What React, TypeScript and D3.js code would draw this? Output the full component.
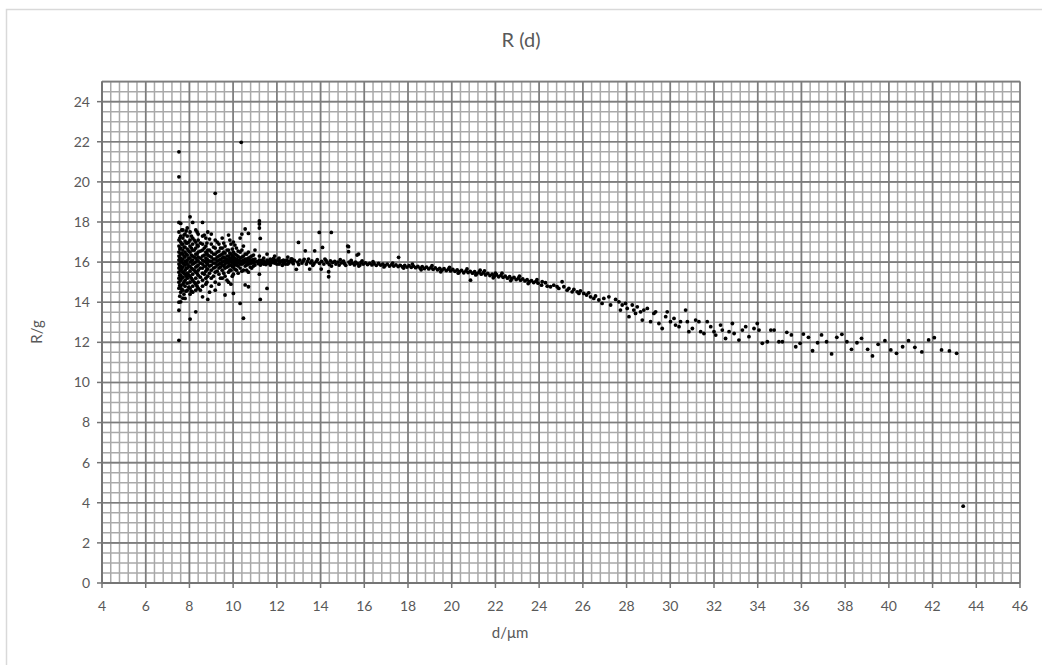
import React from "react";
import * as d3 from "d3";

// ---- data ----
const xTickLabels = [4, 6, 8, 10, 12, 14, 16, 18, 20, 22, 24, 26, 28, 30, 32, 34, 36, 38, 40, 42, 44, 46];
const yTickLabels = [0, 2, 4, 6, 8, 10, 12, 14, 16, 18, 20, 22, 24];

// dense cluster at small d: column d value -> list of R values
const clusterD = [7.52, 7.6, 7.7, 7.8, 7.9, 8.03, 8.15, 8.29, 8.4, 8.6, 8.75, 8.84, 9.0, 9.18, 9.35, 9.5, 9.63, 9.79, 9.9, 10.01, 10.15, 10.32, 10.37, 10.47, 10.55, 10.7, 10.85, 11.0, 11.2, 11.24, 11.4, 11.55, 11.7, 11.9, 12.1, 12.3, 12.5, 12.7];
const clusterR = [
  [21.5, 20.25, 17.98, 17.5, 17.1, 16.8, 16.5, 16.3, 16.1, 15.9, 15.7, 15.5, 15.2, 15.0, 14.7, 14.0, 13.6, 12.1],
  [17.93, 17.3, 17.0, 16.7, 16.4, 16.2, 16.0, 15.8, 15.6, 15.35, 15.1, 14.8, 14.5, 14.02],
  [17.6, 17.2, 16.9, 16.6, 16.4, 16.15, 15.95, 15.75, 15.5, 15.25, 14.9, 14.6, 14.2],
  [17.4, 17.05, 16.75, 16.5, 16.25, 16.05, 15.85, 15.6, 15.4, 15.1, 14.8, 14.19],
  [17.7, 17.3, 16.95, 16.65, 16.35, 16.1, 15.9, 15.7, 15.45, 15.2, 14.95, 14.6],
  [18.26, 17.5, 17.1, 16.8, 16.5, 16.2, 16.0, 15.8, 15.55, 15.3, 15.0, 14.7, 14.4, 13.16],
  [17.98, 17.2, 16.9, 16.6, 16.3, 16.1, 15.9, 15.65, 15.4, 15.1, 14.8, 14.5],
  [17.6, 17.0, 16.7, 16.4, 16.2, 16.0, 15.75, 15.5, 15.2, 14.9, 14.6, 13.52],
  [17.4, 17.1, 16.8, 16.5, 16.25, 16.05, 15.85, 15.6, 15.35, 15.0, 14.7],
  [17.98, 17.3, 16.9, 16.6, 16.3, 16.1, 15.9, 15.7, 15.45, 15.1, 14.8, 14.27],
  [17.2, 16.8, 16.5, 16.2, 16.0, 15.8, 15.55, 15.2, 14.9],
  [17.5, 16.6, 16.35, 16.1, 15.9, 15.65, 15.3, 14.14],
  [17.4, 16.9, 16.5, 16.25, 16.05, 15.85, 15.6, 15.2, 14.8],
  [19.43, 17.1, 16.7, 16.4, 16.15, 15.95, 15.75, 15.5, 15.0, 14.6],
  [16.9, 16.55, 16.3, 16.1, 15.9, 15.7, 15.4, 14.9],
  [17.2, 16.7, 16.4, 16.2, 16.0, 15.85, 15.6, 15.2],
  [16.8, 16.45, 16.2, 16.05, 15.9, 15.7, 15.3, 14.36],
  [17.35, 16.6, 16.3, 16.1, 15.95, 15.8, 15.5, 15.0],
  [16.9, 16.4, 16.2, 16.05, 15.85, 15.6, 14.9],
  [17.0, 16.5, 16.25, 16.1, 15.95, 15.75, 15.4, 14.44],
  [16.7, 16.35, 16.15, 16.0, 15.85, 15.6],
  [17.2, 16.5, 16.2, 16.05, 15.9, 15.7, 13.94],
  [21.97],
  [16.8, 16.3, 16.1, 15.95, 15.6, 13.2],
  [17.65, 16.4, 16.15, 16.0, 15.8, 14.86],
  [17.43, 16.5, 16.2, 16.05, 15.9, 15.5, 14.77],
  [16.3, 16.1, 15.95, 15.7],
  [16.6, 16.15, 16.0, 15.85],
  [18.05, 17.9, 17.7, 16.3, 16.1, 15.95, 15.4],
  [17.18, 14.14],
  [16.2, 16.05, 15.9],
  [16.4, 16.1, 15.95, 14.69],
  [16.15, 16.0, 15.85],
  [16.3, 16.1, 15.95],
  [16.2, 16.05, 15.9],
  [16.1, 15.95],
  [16.25, 16.05, 15.9],
  [16.15, 16.0],
];

// second, offset set of columns filling the dense core of the cluster
const cluster2D = [7.56, 7.65, 7.75, 7.85, 7.97, 8.09, 8.22, 8.35, 8.5, 8.68, 8.8, 8.92, 9.1, 9.27, 9.42, 9.57, 9.72, 9.85, 9.96, 10.08, 10.23, 10.4, 10.62, 10.78, 10.93];
const cluster2R = [
  [17.2, 16.65, 16.2, 15.8, 15.35, 14.85, 14.3],
  [17.6, 16.9, 16.45, 16.05, 15.65, 15.2, 14.65],
  [17.35, 16.75, 16.3, 15.9, 15.45, 15.0, 14.4],
  [17.55, 16.95, 16.4, 16.0, 15.7, 15.3, 14.55],
  [17.0, 16.55, 16.2, 15.8, 15.35, 14.75],
  [17.3, 16.7, 16.35, 16.05, 15.7, 15.2, 14.55],
  [17.1, 16.6, 16.25, 15.95, 15.6, 15.0],
  [17.5, 16.85, 16.4, 16.1, 15.8, 15.45, 14.8],
  [16.95, 16.55, 16.2, 15.95, 15.7, 15.25, 14.6],
  [17.35, 16.7, 16.35, 16.05, 15.8, 15.4],
  [16.95, 16.45, 16.15, 15.95, 15.65, 15.0],
  [17.15, 16.6, 16.3, 16.05, 15.8, 15.45, 14.5],
  [16.75, 16.4, 16.15, 15.95, 15.7, 15.3],
  [17.0, 16.5, 16.25, 16.05, 15.85, 15.55],
  [16.7, 16.35, 16.12, 15.93, 15.75, 15.2],
  [16.95, 16.5, 16.25, 16.05, 15.8, 15.45],
  [16.6, 16.3, 16.12, 15.97, 15.75, 15.1],
  [17.1, 16.45, 16.2, 16.02, 15.85, 15.6],
  [16.65, 16.32, 16.15, 15.98, 15.78, 15.3],
  [16.85, 16.4, 16.18, 16.03, 15.88, 15.65],
  [16.55, 16.28, 16.1, 15.96, 15.8, 15.45],
  [17.4, 16.6, 16.25, 16.05, 15.9, 15.55],
  [16.4, 16.15, 16.0, 15.85, 15.6],
  [16.25, 16.08, 15.95, 15.75],
  [16.35, 16.12, 15.98, 15.8],
];

// scattered points around the flat part of the band
const scatterPoints: [number, number][] = [
  [12.89, 15.64], [12.99, 16.98], [13.3, 16.56], [13.5, 15.65], [13.73, 16.56], [13.94, 17.48],
  [14.03, 15.65], [14.09, 16.73], [14.37, 15.52], [14.37, 15.27], [14.49, 17.48], [15.24, 16.8],
  [15.28, 16.52], [15.67, 16.35], [15.74, 16.4], [15.28, 16.77],
];

// flat band 11 - 16
const flatBand: [number, number][] = [
  [11.1, 16.02], [11.15, 15.92], [11.3, 16.08], [11.35, 15.96], [11.45, 16.0], [11.5, 15.88], [11.6, 16.05],
  [11.65, 15.94], [11.75, 16.1], [11.8, 15.98], [11.95, 16.03], [12.0, 15.9], [12.05, 16.12], [12.15, 15.97],
  [12.2, 16.06], [12.35, 16.0], [12.4, 15.9], [12.45, 16.1], [12.55, 15.96], [12.6, 16.04], [12.75, 15.92],
  [12.8, 16.08], [12.95, 16.0], [13.0, 15.88], [13.05, 16.1], [13.15, 15.95], [13.2, 16.05], [13.35, 15.9],
  [13.4, 16.02], [13.45, 16.15], [13.55, 15.96], [13.6, 16.06], [13.7, 15.92], [13.8, 16.02], [13.85, 16.12],
  [13.95, 15.94], [14.05, 16.04], [14.15, 15.9], [14.25, 16.08], [14.3, 15.98], [14.4, 15.88], [14.45, 16.06],
  [14.55, 15.98], [14.65, 16.04], [14.7, 15.9], [14.8, 16.0], [14.85, 15.85], [14.95, 15.96], [15.05, 16.05],
  [15.1, 15.92], [15.15, 15.84], [15.3, 16.0], [15.35, 15.9], [15.45, 15.95], [15.55, 15.86], [15.6, 16.0],
  [15.7, 15.92], [15.8, 15.85], [15.85, 15.98], [15.95, 15.9],
  [11.25, 15.85], [11.85, 16.18], [12.25, 15.84], [12.65, 16.16], [13.25, 16.14], [13.65, 15.84],
  [14.2, 16.15], [14.5, 15.8], [14.9, 16.12], [15.4, 16.08], [15.75, 15.8], [15.9, 16.06],
];

// slowly falling band 16 - 24
const fallingBand: [number, number][] = [
  [16.05, 15.96], [16.15, 15.88], [16.25, 15.94], [16.35, 15.86], [16.45, 15.92], [16.55, 15.84], [16.65, 15.93],
  [16.75, 15.85], [16.85, 15.9], [16.95, 15.82], [17.05, 15.9], [17.15, 15.8], [17.25, 15.87], [17.35, 15.8],
  [17.45, 15.86], [17.55, 15.78], [17.57, 16.24], [17.65, 15.84], [17.75, 15.76], [17.85, 15.83], [17.95, 15.75],
  [18.05, 15.82], [18.15, 15.74], [18.25, 15.8], [18.35, 15.72], [18.45, 15.78], [18.55, 15.7], [18.65, 15.77],
  [18.75, 15.68], [18.85, 15.75], [18.95, 15.66], [19.05, 15.73], [19.15, 15.64], [19.25, 15.71], [19.35, 15.62],
  [19.45, 15.69], [19.55, 15.6], [19.65, 15.67], [19.75, 15.58], [19.85, 15.65], [19.95, 15.56], [20.05, 15.63],
  [20.15, 15.54], [20.25, 15.61], [20.35, 15.52], [20.45, 15.59], [20.55, 15.47], [20.65, 15.56], [20.75, 15.48],
  [20.85, 15.54], [20.86, 15.1], [20.95, 15.45], [21.05, 15.52], [21.15, 15.42], [21.25, 15.5], [21.35, 15.4],
  [21.45, 15.47], [21.55, 15.36], [21.65, 15.44], [21.75, 15.33], [21.85, 15.4], [21.95, 15.3], [22.05, 15.37],
  [22.15, 15.27], [22.25, 15.34], [22.35, 15.24], [22.45, 15.3], [22.55, 15.2], [22.65, 15.27], [22.75, 15.17],
  [22.85, 15.24], [22.95, 15.13], [23.05, 15.2], [23.15, 15.1], [23.25, 15.16], [23.35, 15.06], [23.45, 15.12],
  [23.55, 15.02], [23.65, 15.08], [23.75, 14.98], [23.85, 15.04], [23.95, 14.95],
];

// extra points widening the falling band
const fallingBandEdge: [number, number][] = [
  [16.4, 16.02], [16.9, 15.76], [17.3, 15.95], [17.8, 15.7], [18.2, 15.9], [18.6, 15.62], [19.1, 15.82],
  [19.5, 15.52], [19.9, 15.74], [20.3, 15.45], [20.7, 15.66], [21.1, 15.36], [21.5, 15.56], [21.9, 15.22],
  [22.3, 15.45], [22.7, 15.08], [23.1, 15.3], [23.5, 14.93], [23.9, 15.12], [22.0, 15.45], [21.3, 15.6],
];

// sparse tail
const tailPoints: [number, number][] = [
  [24.14, 15.02], [24.29, 14.97], [24.11, 14.85], [24.37, 14.8], [24.52, 14.77], [24.67, 14.85], [24.82, 14.77],
  [24.9, 14.69], [25.05, 15.02], [25.13, 14.77], [25.28, 14.6], [25.36, 14.69], [25.51, 14.52], [25.59, 14.64],
  [25.74, 14.52], [25.82, 14.44], [25.89, 14.57], [26.04, 14.44], [26.17, 14.36], [26.27, 14.47], [26.35, 14.27],
  [26.5, 14.19], [26.58, 14.31], [26.73, 14.11], [26.88, 13.94], [26.96, 14.19], [27.19, 14.27], [27.27, 13.86],
  [27.5, 14.14], [27.65, 14.02], [27.72, 13.61], [27.8, 13.86], [27.95, 13.94], [28.03, 13.69], [28.11, 13.28],
  [28.26, 13.86], [28.33, 13.61], [28.41, 13.44], [28.49, 13.77], [28.64, 13.52], [28.79, 13.61], [28.72, 13.11],
  [28.95, 13.69], [29.1, 13.03], [29.25, 13.44], [29.33, 13.52], [29.48, 12.94], [29.63, 12.69], [29.79, 13.28],
  [29.86, 13.52], [30.01, 13.03], [30.17, 13.19], [30.24, 12.86], [30.4, 12.78], [30.47, 13.03], [30.7, 13.61],
  [30.78, 13.03], [30.85, 12.53], [31.01, 12.69], [31.16, 13.11], [31.31, 13.03], [31.39, 12.53], [31.54, 12.44],
  [31.69, 13.03], [31.85, 12.78], [32.0, 12.53], [32.08, 12.36], [32.3, 12.86], [32.38, 12.61], [32.53, 12.19],
  [32.69, 12.53], [32.84, 12.94], [32.92, 12.44], [33.14, 12.11], [33.3, 12.61], [33.45, 12.78], [33.6, 12.28],
  [33.83, 12.69], [33.98, 12.94], [34.06, 12.61], [34.21, 11.95], [34.44, 12.03], [34.6, 12.61], [34.75, 12.61],
  [34.97, 12.03], [35.13, 12.03], [35.33, 12.5], [35.54, 12.37], [35.74, 11.78], [35.94, 11.95], [36.09, 12.41],
  [36.32, 12.25], [36.51, 11.58], [36.74, 11.98], [36.92, 12.37], [37.15, 12.03], [37.38, 11.42], [37.62, 12.25],
  [37.85, 12.4], [38.08, 12.03], [38.29, 11.65], [38.54, 11.98], [38.75, 12.2], [39.03, 11.65], [39.25, 11.32],
  [39.51, 11.9], [39.82, 12.08], [40.09, 11.62], [40.35, 11.45], [40.63, 11.78], [40.9, 12.08], [41.19, 11.75],
  [41.51, 11.52], [41.82, 12.12], [42.08, 12.23], [42.41, 11.62], [42.77, 11.57], [43.1, 11.45],
];

const outlierPoints: [number, number][] = [[43.4, 3.83]];

// ---- layout ----
const W = 1042;
const H = 665;
const M = { left: 102, right: 1020, top: 81.6, bottom: 583 };

export default function App() {
  const x = d3.scaleLinear().domain([4, 46]).range([M.left, M.right]);
  const y = d3.scaleLinear().domain([0, 25]).range([M.bottom, M.top]);

  const xMinor = d3.range(4, 46.001, 0.4);
  const yMinor = d3.range(0, 25.001, 0.5);
  const xMajor = xTickLabels;
  const yMajor = yTickLabels;

  const points: [number, number][] = [];
  clusterD.forEach((d, i) => clusterR[i].forEach((r) => points.push([d, r])));
  cluster2D.forEach((d, i) => cluster2R[i].forEach((r) => points.push([d, r])));
  points.push(...scatterPoints, ...flatBand, ...fallingBand, ...fallingBandEdge, ...tailPoints, ...outlierPoints);

  const font = "Lato, 'Open Sans', sans-serif";
  const textColor = "#595959";

  return (
    <svg width={W} height={H} style={{ position: "absolute", left: 0, top: 0, background: "#fff" }}>
      <rect x={6.5} y={9.5} width={1100} height={700} fill="#fff" stroke="#d9d9d9" strokeWidth={1.5} />
      <g>
        {xMinor.map((v, i) => (
          <line key={"xm" + i} x1={x(v)} x2={x(v)} y1={M.top} y2={M.bottom} stroke="#a9a9a9" strokeWidth={1.5} />
        ))}
        {yMinor.map((v, i) => (
          <line key={"ym" + i} x1={M.left} x2={M.right} y1={y(v)} y2={y(v)} stroke="#a9a9a9" strokeWidth={1.5} />
        ))}
        {xMajor.map((v) => (
          <line key={"xM" + v} x1={x(v)} x2={x(v)} y1={M.top} y2={M.bottom} stroke="#7d7d7d" strokeWidth={1.6} />
        ))}
        {yMajor.map((v) => (
          <line key={"yM" + v} x1={M.left} x2={M.right} y1={y(v)} y2={y(v)} stroke="#7d7d7d" strokeWidth={1.6} />
        ))}
        <line x1={M.left} x2={M.right} y1={y(25)} y2={y(25)} stroke="#7d7d7d" strokeWidth={1.6} />
      </g>
      {/* axes */}
      <line x1={M.left} x2={M.left} y1={M.top} y2={M.bottom} stroke="#757575" strokeWidth={2} />
      <line x1={M.left} x2={M.right} y1={M.bottom} y2={M.bottom} stroke="#757575" strokeWidth={2} />
      {yMajor.map((v) => (
        <line key={"yt" + v} x1={M.left - 5} x2={M.left} y1={y(v)} y2={y(v)} stroke="#757575" strokeWidth={1.5} />
      ))}
      {xMajor.map((v) => (
        <line key={"xt" + v} x1={x(v)} x2={x(v)} y1={M.bottom} y2={M.bottom + 5} stroke="#757575" strokeWidth={1.5} />
      ))}
      {yTickLabels.map((v) => (
        <text key={"yl" + v} x={M.left - 12} y={y(v)} dy="0.35em" textAnchor="end" fontSize={14} fill={textColor} fontFamily={font}>
          {v}
        </text>
      ))}
      {xTickLabels.map((v) => (
        <text key={"xl" + v} x={x(v)} y={M.bottom + 23} dy="0.35em" textAnchor="middle" fontSize={14} fill={textColor} fontFamily={font}>
          {v}
        </text>
      ))}
      {/* points */}
      <g>
        {points.map((p, i) => (
          <circle key={"p" + i} cx={x(p[0])} cy={y(p[1])} r={1.9} fill="#000" />
        ))}
      </g>
      {/* titles */}
      <text x={521} y={40} dy="0.35em" textAnchor="middle" fontSize={20} fill={textColor} fontFamily={font}>
        R (d)
      </text>
      <text x={510} y={633} dy="0.35em" textAnchor="middle" fontSize={15} fill={textColor} fontFamily={font}>
        d/μm
      </text>
      <text
        transform={`translate(37, ${332}) rotate(-90)`}
        dy="0.35em"
        textAnchor="middle"
        fontSize={15}
        fill={textColor}
        fontFamily={font}
      >
        R/g
      </text>
    </svg>
  );
}
